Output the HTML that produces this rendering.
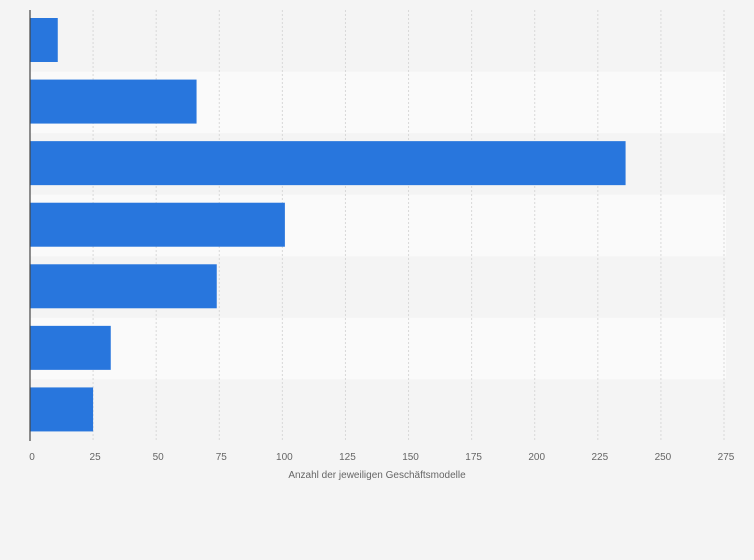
<!DOCTYPE html>
<html><head><meta charset="utf-8"><style>
body{margin:0;background:#f4f4f4;}
svg{display:block;font-family:"Liberation Sans",sans-serif;}
</style></head><body>
<svg id="chart" width="754" height="560" viewBox="0 0 754 560" xmlns="http://www.w3.org/2000/svg">
<rect width="754" height="560" fill="#f4f4f4"/>
</svg>
<script>
const categories=["Kategorie 1","Kategorie 2","Kategorie 3","Kategorie 4","Kategorie 5","Kategorie 6","Kategorie 7"];
const values=[11,66,236,101,74,32,25];
const ticks=[0,25,50,75,100,125,150,175,200,225,250,275];
const NS="http://www.w3.org/2000/svg";
const svgEl=document.getElementById('chart');
const x0=30,x1=724,xmax=275,plotTop=10,plotBottom=441;
const rowH=(plotBottom-plotTop)/categories.length;
function xs(v){return x0+(x1-x0)*v/xmax;}
function mk(t,a){const e=document.createElementNS(NS,t);for(const k in a)e.setAttribute(k,a[k]);svgEl.appendChild(e);return e;}
categories.forEach((c,i)=>{
  if(i%2===1){const b=mk('rect',{x:x0,y:plotTop+i*rowH,width:x1+2-x0,height:rowH,fill:'#fafafa'});
  
  }
});
ticks.forEach(t=>{
  if(t>0){const l=mk('line',{x1:xs(t),x2:xs(t),y1:plotTop,y2:plotBottom,stroke:'#d8d8d8','stroke-dasharray':'2,2'});
  
  }
  const tx=mk('text',{x:xs(t)+2,y:460,'text-anchor':'middle','font-size':'10',fill:'#666'});
  tx.textContent=t;
  
  
});
values.forEach((v,i)=>{
  const r=mk('rect',{x:x0,y:plotTop+i*rowH+8,width:xs(v)-x0,height:44,fill:'#2876dd'});
  
  
});
const ax=mk('line',{x1:x0,x2:x0,y1:plotTop,y2:plotBottom,stroke:'#444','stroke-width':1.2});


const tt=mk('text',{x:377,y:478,'text-anchor':'middle','font-size':'10',fill:'#666'});
tt.textContent='Anzahl der jeweiligen Geschäftsmodelle';


</script>
</body></html>
